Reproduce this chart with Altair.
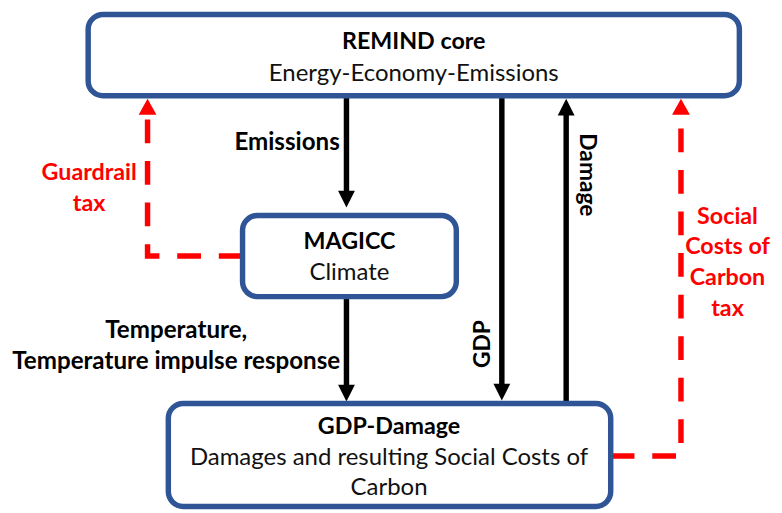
import altair as alt
import pandas as pd

# Diagram coordinate space (page pixels)
X0, X1 = 8, 782
Y0, Y1 = 8, 513

# Boxes
box_names = ["REMIND core", "MAGICC", "GDP-Damage"]
box_left = [89, 245, 170]
box_right = [747, 461, 617]
box_top = [12, 215, 405]
box_bottom = [94, 297, 509]

# Black flow arrows (vertical)
arrow_names = ["Emissions", "Temperature", "GDP", "Damage"]
arrow_x = [350, 350, 507, 572]
arrow_start = [96, 297, 96, 405]
arrow_tip = [207, 403, 402, 97]

# Red dashed tax feedback paths
tax_names = ["Guardrail tax", "Social Costs of Carbon tax"]
tax_start_x = [245, 617]
tax_start_y = [256, 458]
tax_corner_x = [149, 688]
tax_tip_y = [97, 97]

# Texts
title_text = ["REMIND core", "MAGICC", "GDP-Damage"]
title_x = [418, 353, 393]
title_y = [40, 242, 429]

sub_text = ["Energy-Economy-Emissions", "Climate", "Damages and resulting Social Costs of", "Carbon"]
sub_x = [418, 353, 393, 393]
sub_y = [72, 273, 460, 490]

label_text = ["Emissions", "Temperature,", "Temperature impulse response"]
label_x = [290, 178, 178]
label_y = [142, 332, 363]

rot_text = ["GDP", "Damage"]
rot_x = [488, 593]
rot_y = [345, 174]
rot_angle = [270, 90]

red_text = ["Guardrail", "tax", "Social", "Costs of", "Carbon", "tax"]
red_x = [90, 90, 735, 735, 735, 735]
red_y = [172, 203, 217, 247, 278, 310]

BLUE = "#2F5597"
RED = "#FF0000"
FONT = "Lato"

xs = alt.Scale(domain=[X0, X1], nice=False, zero=False)
ys = alt.Scale(domain=[Y0, Y1], nice=False, zero=False, reverse=True)


def X(f="x"):
    return alt.X(f"{f}:Q", scale=xs, axis=None)


def Y(f="y"):
    return alt.Y(f"{f}:Q", scale=ys, axis=None)


boxes = pd.DataFrame({"name": box_names, "x": box_left, "x2": box_right,
                      "y": box_top, "y2": box_bottom})
box_layer = alt.Chart(boxes).mark_rect(
    fill="white", stroke=BLUE, strokeWidth=5.5, cornerRadius=15
).encode(x=X(), x2="x2:Q", y=Y(), y2="y2:Q")

lines = pd.DataFrame({
    "name": arrow_names,
    "x": arrow_x,
    "y": arrow_start,
    "y2": [t - 12 if t > s else t + 12 for s, t in zip(arrow_start, arrow_tip)],
})
line_layer = alt.Chart(lines).mark_rule(
    color="black", strokeWidth=5.5, strokeCap="butt"
).encode(x=X(), y=Y(), y2="y2:Q")

UP = "M0,0L-1,2L1,2Z"
DOWN = "M0,0L-1,-2L1,-2Z"
heads = pd.DataFrame({
    "x": arrow_x,
    "y": arrow_tip,
    "shape": [DOWN if t > s else UP for s, t in zip(arrow_start, arrow_tip)],
})
head_layer = alt.Chart(heads).mark_point(
    filled=True, fill="black", color="black", opacity=1, size=289, strokeWidth=0
).encode(x=X(), y=Y(), shape=alt.Shape("shape:N", scale=None))

rows = []
for n, sx, sy, cx, ty in zip(tax_names, tax_start_x, tax_start_y, tax_corner_x, tax_tip_y):
    rows += [
        {"name": n, "o": 0, "x": sx, "y": sy},
        {"name": n, "o": 1, "x": cx, "y": sy},
        {"name": n, "o": 2, "x": cx, "y": ty + 10},
    ]
tax_df = pd.DataFrame(rows)
tax_layer = alt.Chart(tax_df).mark_line(
    color=RED, strokeWidth=5.5, strokeDash=[24, 18], strokeCap="butt", strokeJoin="miter"
).encode(x=X(), y=Y(), order="o:Q", detail="name:N")

red_heads = pd.DataFrame({"x": tax_corner_x, "y": tax_tip_y})
red_head_layer = alt.Chart(red_heads).mark_point(
    filled=True, fill=RED, color=RED, opacity=1, size=324, strokeWidth=0,
    shape="M0,0L-1,1.8L1,1.8Z"
).encode(x=X(), y=Y())

title_layer = alt.Chart(pd.DataFrame({"t": title_text, "x": title_x, "y": title_y})).mark_text(
    font=FONT, fontSize=23.5, fontWeight="bold", color="black", align="center", baseline="middle"
).encode(x=X(), y=Y(), text="t:N")

sub_layer = alt.Chart(pd.DataFrame({"t": sub_text, "x": sub_x, "y": sub_y})).mark_text(
    font=FONT, fontSize=24.2, fontWeight="normal", color="#111111", align="center", baseline="middle"
).encode(x=X(), y=Y(), text="t:N")

label_layer = alt.Chart(pd.DataFrame({"t": label_text, "x": label_x, "y": label_y})).mark_text(
    font=FONT, fontSize=24.4, fontWeight="bold", color="black", align="center", baseline="middle"
).encode(x=X(), y=Y(), text="t:N")

rot_layer = alt.Chart(pd.DataFrame({"t": rot_text, "x": rot_x, "y": rot_y, "a": rot_angle})).mark_text(
    font=FONT, fontSize=23, fontWeight="bold", color="black", align="center", baseline="middle"
).encode(x=X(), y=Y(), text="t:N", angle=alt.Angle("a:Q", scale=None))

red_layer = alt.Chart(pd.DataFrame({"t": red_text, "x": red_x, "y": red_y})).mark_text(
    font=FONT, fontSize=23.5, fontWeight="bold", color=RED, align="center", baseline="middle"
).encode(x=X(), y=Y(), text="t:N")

chart = alt.layer(
    tax_layer, red_head_layer, line_layer, head_layer, box_layer,
    title_layer, sub_layer, label_layer, rot_layer, red_layer
).properties(
    width=X1 - X0, height=Y1 - Y0, autosize="none", padding=0, background="white"
).configure_view(stroke=None)

chart.save("out.html", embed_options={"renderer": "svg", "actions": False})
